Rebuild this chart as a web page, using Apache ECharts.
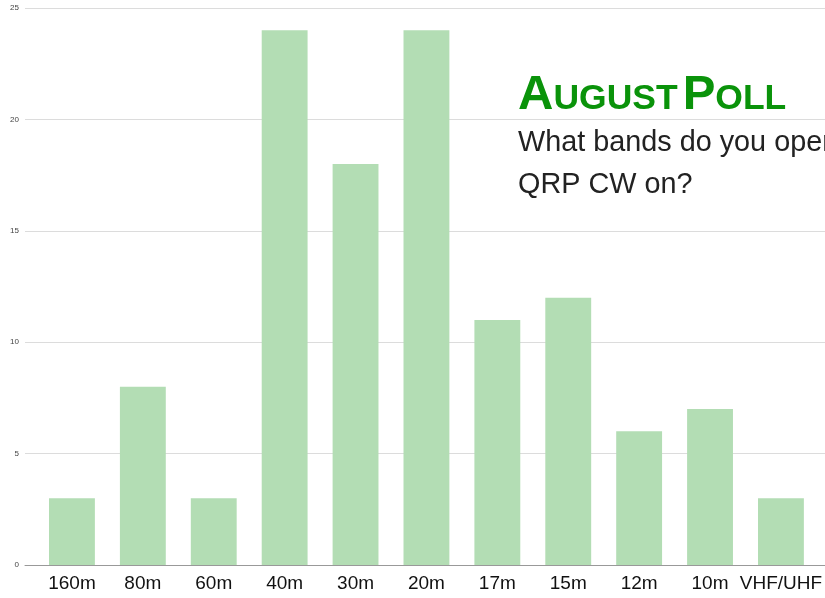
<!DOCTYPE html>
<html>
<head>
<meta charset="utf-8">
<script src="https://cdn.jsdelivr.net/npm/echarts@6/dist/echarts.min.js"></script>
<style>
  html, body { margin: 0; padding: 0; background: #fff; }
  #myChart { width: 825px; height: 598px; }
</style>
</head>
<body>
<div id="myChart"></div>
<script>
// poll data
var bands = ['160m', '80m', '60m', '40m', '30m', '20m', '17m', '15m', '12m', '10m', 'VHF/UHF'];
var votes = [3, 8, 3, 24, 18, 24, 11, 12, 6, 7, 3];
var yTicks = [0, 5, 10, 15, 20, 25];

var FONT = 'Liberation Sans';
var GREEN = '#0a930a';
var myChart = echarts.init(document.getElementById('myChart'));
var option = {
    animation: false,
    textStyle: { fontFamily: FONT },
    title: {
        text: '{a|A}{b|UGUST}{s| }{a|P}{b|OLL}',
        left: 518,
        top: 70,
        padding: 0,
        textStyle: {
            fontFamily: FONT,
            rich: {
                a: { fontFamily: FONT, fontSize: 49, fontWeight: 'bold', color: GREEN, verticalAlign: 'bottom', lineHeight: 50 },
                b: { fontFamily: FONT, fontSize: 35.5, fontWeight: 'bold', color: GREEN, verticalAlign: 'bottom', lineHeight: 50, padding: [0, 0, 3, 0] },
                s: { width: 5, fontSize: 35.5 }
            }
        },
        subtext: 'What bands do you operate\nQRP CW on?',
        subtextStyle: { fontFamily: FONT, fontSize: 28.8, color: '#222', lineHeight: 42 },
        itemGap: 3
    },
    grid: [
        { left: 25, right: 0, top: 8, bottom: 33 },      // gridlines + y labels
        { left: 36.5, right: 6.5, top: 8, bottom: 33 }   // bars
    ],
    xAxis: [
        {
            gridIndex: 0, type: 'value', min: 0, max: 1,
            axisLine: { show: true, lineStyle: { color: '#999', width: 1 } },
            axisTick: { show: false }, axisLabel: { show: false }, splitLine: { show: false }
        },
        {
            gridIndex: 1, type: 'category', data: bands,
            axisLine: { show: false }, axisTick: { show: false },
            axisLabel: { fontFamily: FONT, fontSize: 19, color: '#111', margin: 9, interval: 0 }
        }
    ],
    yAxis: [
        {
            gridIndex: 0, type: 'value', min: yTicks[0], max: yTicks[yTicks.length - 1], interval: 5,
            axisLine: { show: false }, axisTick: { show: false },
            axisLabel: { fontFamily: FONT, fontSize: 8, color: '#444', margin: 6 },
            splitLine: { lineStyle: { color: '#dcdcdc', width: 1 } }
        },
        {
            gridIndex: 1, type: 'value', min: 0, max: 25, show: false
        }
    ],
    series: [
        {
            type: 'bar',
            xAxisIndex: 1,
            yAxisIndex: 1,
            data: votes,
            barCategoryGap: '35.3%',
            itemStyle: { color: '#b3ddb4' }
        }
    ]
};
myChart.setOption(option);
</script>
</body>
</html>
